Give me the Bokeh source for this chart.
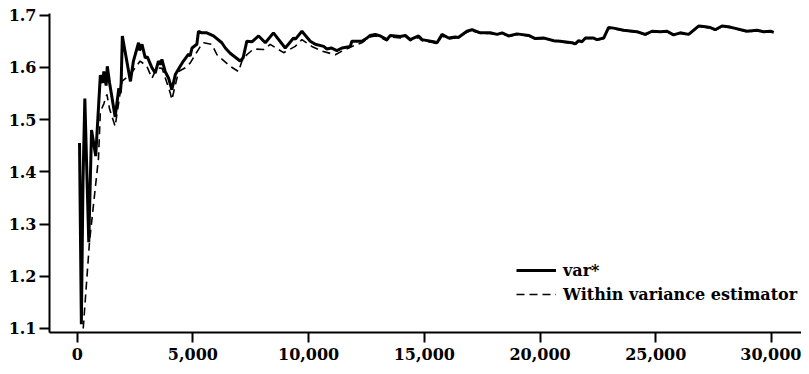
from bokeh.plotting import figure
from bokeh.models import Range1d, FixedTicker, NumeralTickFormatter, Legend, LegendItem
from bokeh.embed import file_html
from bokeh.resources import INLINE

x_var = [100, 180, 250, 330, 500, 620, 800, 1000, 1100, 1150, 1250, 1300, 1400, 1640, 1800, 1860, 1900, 1950,
         2300, 2430, 2650, 2700, 2800, 2940, 3030, 3230, 3370, 3510, 3590, 3660, 3800, 3950, 4090, 4240, 4450,
         4590, 4740, 4810, 4880, 4960, 5170, 5240, 5390, 5600, 5890, 6250, 6400, 6610, 7040, 7170, 7330, 7560,
         7840, 8130, 8480, 8990, 9350, 9430, 9710, 10070, 10290, 10650, 10790, 10980, 11220, 11440, 11800,
         11870, 12300, 12490, 12660, 12880, 13100, 13380, 13530, 13960, 14180, 14390, 14750, 14900, 15400,
         15550, 15760, 16050, 16340, 16470, 16840, 17060, 17420, 17850, 18140, 18360, 18640, 19000, 19510,
         19790, 20150, 20590, 20870, 21380, 21520, 21670, 21810, 21960, 22310, 22460, 22750, 22960, 23180,
         23610, 24190, 24550, 24840, 25200, 25490, 25770, 26060, 26420, 26850, 27070, 27360, 27570, 27860,
         28220, 28940, 29380, 29660, 29960, 30100]
y_var = [1.455, 1.108, 1.38, 1.54, 1.265, 1.48, 1.43, 1.585, 1.57, 1.592, 1.565, 1.602, 1.57, 1.505, 1.56, 1.55,
         1.57, 1.66, 1.573, 1.612, 1.647, 1.632, 1.644, 1.618, 1.62, 1.599, 1.589, 1.612, 1.605, 1.615, 1.592,
         1.579, 1.557, 1.586, 1.602, 1.612, 1.621, 1.625, 1.622, 1.637, 1.644, 1.669, 1.666, 1.666, 1.66, 1.647,
         1.637, 1.627, 1.612, 1.618, 1.65, 1.649, 1.66, 1.647, 1.666, 1.637, 1.656, 1.654, 1.669, 1.65, 1.644,
         1.64, 1.635, 1.637, 1.632, 1.637, 1.64, 1.65, 1.65, 1.655, 1.661, 1.663, 1.66, 1.653, 1.661, 1.659,
         1.661, 1.653, 1.66, 1.653, 1.649, 1.647, 1.663, 1.656, 1.658, 1.657, 1.669, 1.672, 1.666, 1.666, 1.663,
         1.666, 1.66, 1.664, 1.661, 1.655, 1.656, 1.651, 1.65, 1.647, 1.645, 1.651, 1.649, 1.656, 1.656, 1.653,
         1.656, 1.676, 1.675, 1.671, 1.668, 1.663, 1.669, 1.668, 1.669, 1.662, 1.666, 1.663, 1.679, 1.678, 1.676,
         1.672, 1.679, 1.677, 1.669, 1.671, 1.668, 1.669, 1.667]

x_within = [260, 530, 920, 1000, 1150, 1284, 1400, 1640, 1930, 2290, 2720, 3010, 3230, 3440, 3670, 4020, 4090,
            4380, 4670, 4880, 5320, 5460, 5820, 6040, 6610, 6970, 7120, 7330, 7620, 8050, 8340, 8920, 9420, 9710,
            10140, 10580, 11150, 11440, 11870, 12300, 12660, 12880, 13100, 13380, 13530, 13960, 14180, 14390,
            14750, 14900, 15400, 15550, 15760, 16050, 16340, 16840, 17060, 17420, 17850, 18140, 18360, 18640,
            19000, 19510, 19790, 20150, 20590, 20870, 21380, 21520, 21670, 21810, 21960, 22310, 22460, 22750,
            22960, 23180, 23610, 24190, 24550, 24840, 25200, 25490, 25770, 26060, 26420, 26850, 27070, 27360,
            27570, 27860, 28220, 28940, 29380, 29660, 29960, 30100]
y_within = [1.10, 1.265, 1.426, 1.515, 1.53, 1.548, 1.52, 1.487, 1.573, 1.586, 1.612, 1.602, 1.579, 1.599, 1.598,
            1.551, 1.538, 1.592, 1.599, 1.608, 1.64, 1.647, 1.644, 1.624, 1.602, 1.592, 1.612, 1.624, 1.635, 1.634,
            1.644, 1.628, 1.64, 1.653, 1.64, 1.631, 1.624, 1.631, 1.64, 1.647, 1.658, 1.66, 1.657, 1.651, 1.658,
            1.656, 1.659, 1.651, 1.657, 1.651, 1.647, 1.645, 1.66, 1.654, 1.656, 1.667, 1.67, 1.665, 1.665, 1.662,
            1.665, 1.659, 1.663, 1.66, 1.654, 1.655, 1.65, 1.649, 1.646, 1.644, 1.65, 1.648, 1.655, 1.655, 1.652,
            1.655, 1.675, 1.674, 1.67, 1.667, 1.662, 1.668, 1.667, 1.668, 1.661, 1.665, 1.662, 1.678, 1.677, 1.675,
            1.671, 1.678, 1.676, 1.668, 1.67, 1.667, 1.668, 1.666]

x_ticks = [0, 5000, 10000, 15000, 20000, 25000, 30000]
y_ticks = [1.1, 1.2, 1.3, 1.4, 1.5, 1.6, 1.7]
labels = ["var*", "Within variance estimator"]

FONT = "DejaVu Serif"

p = figure(width=801, height=366, output_backend="svg", toolbar_location=None,
           x_range=Range1d(-1197, 31298), y_range=Range1d(1.0923, 1.703),
           min_border_left=49, min_border_right=0, min_border_top=13, min_border_bottom=34)
p.outline_line_color = None
p.xgrid.grid_line_color = None
p.ygrid.grid_line_color = None
p.background_fill_color = "white"

r_within = p.line(x_within, y_within, line_color="black", line_width=1.6, line_dash="8 5")
r_var = p.line(x_var, y_var, line_color="black", line_width=3)

for ax in (p.xaxis[0], p.yaxis[0]):
    ax.axis_line_width = 2
    ax.axis_line_color = "black"
    ax.major_tick_line_width = 2
    ax.major_tick_line_color = "black"
    ax.major_tick_out = 10
    ax.major_tick_in = 0
    ax.minor_tick_line_color = None
    ax.major_label_text_font = FONT
    ax.major_label_text_font_style = "bold"
    ax.major_label_text_font_size = "16px"
    ax.major_label_text_color = "black"

p.xaxis.major_label_standoff = 5
p.yaxis.major_label_standoff = 3
p.xaxis.ticker = FixedTicker(ticks=x_ticks)
p.xaxis.formatter = NumeralTickFormatter(format="0,0")
p.yaxis.ticker = FixedTicker(ticks=y_ticks)
p.yaxis.formatter = NumeralTickFormatter(format="0.0")

legend = Legend(items=[LegendItem(label=labels[0], renderers=[r_var]),
                       LegendItem(label=labels[1], renderers=[r_within])],
                location=(467, 27), padding=0, margin=0, spacing=2,
                glyph_width=40, glyph_height=22, label_height=22, label_standoff=7,
                label_text_font=FONT, label_text_font_style="bold", label_text_font_size="16px",
                label_text_color="black",
                background_fill_alpha=0, border_line_alpha=0)
p.add_layout(legend, "center")

open("out.html", "w").write(file_html(p, INLINE))
